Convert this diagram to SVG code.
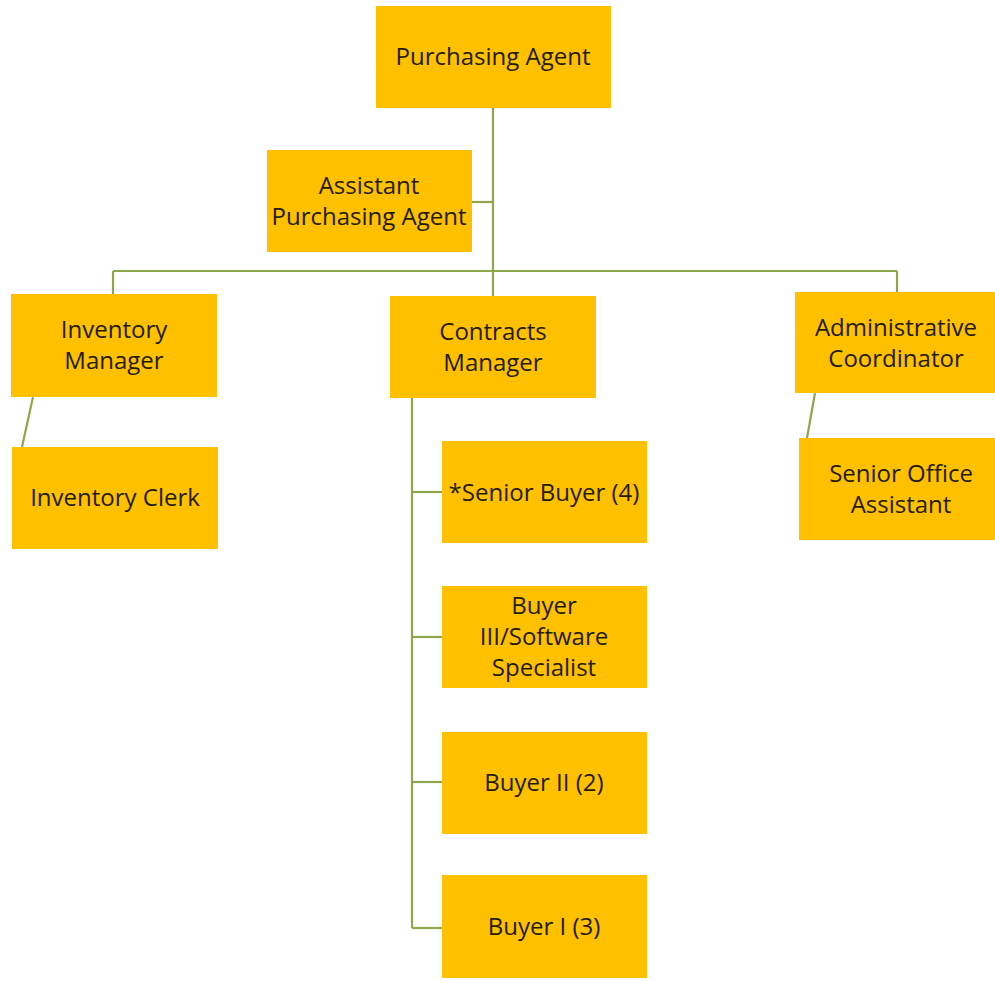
<svg xmlns="http://www.w3.org/2000/svg" width="995" height="981" viewBox="0 0 995 981">
  <style>
    .box { fill: #FFC000; }
    .lbl { font-family: "Open Sans", "Liberation Sans", sans-serif; font-size: 24px; fill: #241c06; text-anchor: middle; }
    .link { stroke: #8FA64A; stroke-width: 2.2; fill: none; }
  </style>
  <rect width="995" height="981" fill="#ffffff"/>

  <!-- connectors -->
  <g id="connectors" class="link">
    <path d="M493,108 V296"/>
    <path d="M472,202 H493"/>
    <path d="M113,271 H897"/>
    <path d="M113,271 V294"/>
    <path d="M897,271 V292"/>
    <path d="M33,397 L22,447"/>
    <path d="M815,393 L807,438"/>
    <path d="M412,398 V928"/>
    <path d="M412,492 H442"/>
    <path d="M412,637 H442"/>
    <path d="M412,782 H442"/>
    <path d="M412,928 H442"/>
  </g>

  <!-- nodes -->
  <g id="purchasing-agent">
    <rect class="box" x="376" y="6" width="235" height="102"/>
    <text class="lbl" x="493" y="65">Purchasing Agent</text>
  </g>
  <g id="assistant-purchasing-agent">
    <rect class="box" x="267" y="150" width="205" height="102"/>
    <text class="lbl" x="369" y="194">Assistant</text>
    <text class="lbl" x="369" y="225">Purchasing Agent</text>
  </g>
  <g id="inventory-manager">
    <rect class="box" x="11" y="294" width="206" height="103"/>
    <text class="lbl" x="114" y="338">Inventory</text>
    <text class="lbl" x="114" y="369">Manager</text>
  </g>
  <g id="inventory-clerk">
    <rect class="box" x="12" y="447" width="206" height="102"/>
    <text class="lbl" x="115" y="506">Inventory Clerk</text>
  </g>
  <g id="contracts-manager">
    <rect class="box" x="390" y="296" width="206" height="102"/>
    <text class="lbl" x="493" y="340">Contracts</text>
    <text class="lbl" x="493" y="371">Manager</text>
  </g>
  <g id="administrative-coordinator">
    <rect class="box" x="795" y="292" width="200" height="101"/>
    <text class="lbl" x="896" y="336">Administrative</text>
    <text class="lbl" x="896" y="367">Coordinator</text>
  </g>
  <g id="senior-office-assistant">
    <rect class="box" x="799" y="438" width="196" height="102"/>
    <text class="lbl" x="901" y="482">Senior Office</text>
    <text class="lbl" x="901" y="513">Assistant</text>
  </g>
  <g id="senior-buyer">
    <rect class="box" x="442" y="441" width="205" height="102"/>
    <text class="lbl" x="544" y="501">*Senior Buyer (4)</text>
  </g>
  <g id="buyer-iii">
    <rect class="box" x="442" y="586" width="205" height="102"/>
    <text class="lbl" x="544" y="614">Buyer</text>
    <text class="lbl" x="544" y="645">III/Software</text>
    <text class="lbl" x="544" y="676">Specialist</text>
  </g>
  <g id="buyer-ii">
    <rect class="box" x="442" y="732" width="205" height="102"/>
    <text class="lbl" x="544" y="791">Buyer II (2)</text>
  </g>
  <g id="buyer-i">
    <rect class="box" x="442" y="875" width="205" height="103"/>
    <text class="lbl" x="544" y="935">Buyer I (3)</text>
  </g>
</svg>
